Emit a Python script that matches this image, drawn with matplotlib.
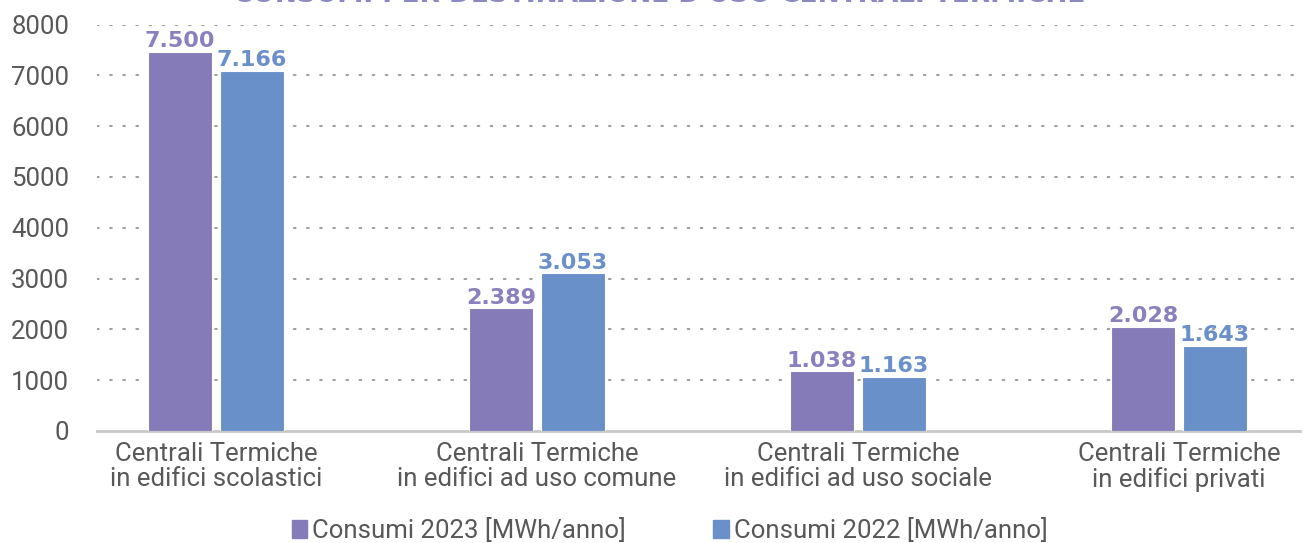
import matplotlib
matplotlib.use('Agg')
import matplotlib.pyplot as plt
from matplotlib.patches import Patch
import numpy as np

# data
categorie = ['Centrali Termiche\nin edifici scolastici',
             'Centrali Termiche\nin edifici ad uso comune',
             'Centrali Termiche\nin edifici ad uso sociale',
             'Centrali Termiche\nin edifici privati']
consumi_2023 = [7470, 2420, 1180, 2050]
consumi_2022 = [7090, 3110, 1065, 1675]
etichette_2023 = ['7.500', '2.389', '1.038', '2.028']
etichette_2022 = ['7.166', '3.053', '1.163', '1.643']
serie = ['Consumi 2023 [MWh/anno]', 'Consumi 2022 [MWh/anno]']
titolo = "CONSUMI PER DESTINAZIONE D'USO CENTRALI TERMICHE"

viola = '#857bb9'
blu = '#6a90c9'
grigio_testo = '#585858'

plt.rcParams['font.family'] = ['Roboto', 'DejaVu Sans']

fig = plt.figure(figsize=(13.03, 5.43), dpi=100)
ax = fig.add_axes([97/1303, 1-431/543, (1300-97)/1303, (431-24.6)/543])

x = np.arange(len(categorie))
w = 0.2
off = 0.112
b1 = ax.bar(x - off, consumi_2023, w, color=viola, edgecolor='white', linewidth=0.8, zorder=3)
b2 = ax.bar(x + off, consumi_2022, w, color=blu, edgecolor='white', linewidth=0.8, zorder=3)

# value labels on top of each bar
for rect, lab in zip(b1, etichette_2023):
    ax.text(rect.get_x() + rect.get_width()/2, rect.get_height() + 10, lab,
            ha='center', va='bottom', fontsize=16, fontweight='heavy',
            family='DejaVu Sans', color='#8a80c0', zorder=4)
for rect, lab in zip(b2, etichette_2022):
    ax.text(rect.get_x() + rect.get_width()/2, rect.get_height() + 10, lab,
            ha='center', va='bottom', fontsize=16, fontweight='heavy',
            family='DejaVu Sans', color='#6a90cc', zorder=4)

ax.set_xlim(-0.371, 3.377)
ax.set_ylim(0, 8000)
ax.set_yticks(np.arange(0, 8001, 1000))
ax.set_xticks(x)
ax.set_xticklabels(categorie, fontsize=18.5, color=grigio_testo, linespacing=1.05)
ax.tick_params(axis='y', labelsize=18.5, labelcolor=grigio_testo, length=0, pad=20)
ax.tick_params(axis='x', length=0, pad=8)

# dotted grid
for yv in range(1000, 8001, 1000):
    ax.axhline(yv, color='#a0a0a0', lw=1.5, linestyle=(0, (0.8, 5.5)),
               dash_capstyle='round', zorder=1)

for s in ['top', 'right', 'left']:
    ax.spines[s].set_visible(False)
ax.spines['bottom'].set_color('#c8c8c8')
ax.spines['bottom'].set_linewidth(2)

# title, cut off by the top edge as in the original
fig.text(0.506, 1 - 2/543, titolo, ha='center', va='baseline', fontsize=19,
         fontweight='heavy', family='DejaVu Sans', color='#8c88c4')

handles = [Patch(color=viola), Patch(color=blu)]
fig.legend(handles, serie, loc='center', bbox_to_anchor=(0.514, 1 - 530/543),
           ncol=2, frameon=False, handlelength=0.6, handleheight=0.7,
           handletextpad=0.2, columnspacing=3.4,
           prop={'family': ['Roboto', 'DejaVu Sans'], 'size': 18.5})
for t in fig.legends[0].get_texts():
    t.set_color(grigio_testo)

fig.savefig('out.png', dpi=100)
